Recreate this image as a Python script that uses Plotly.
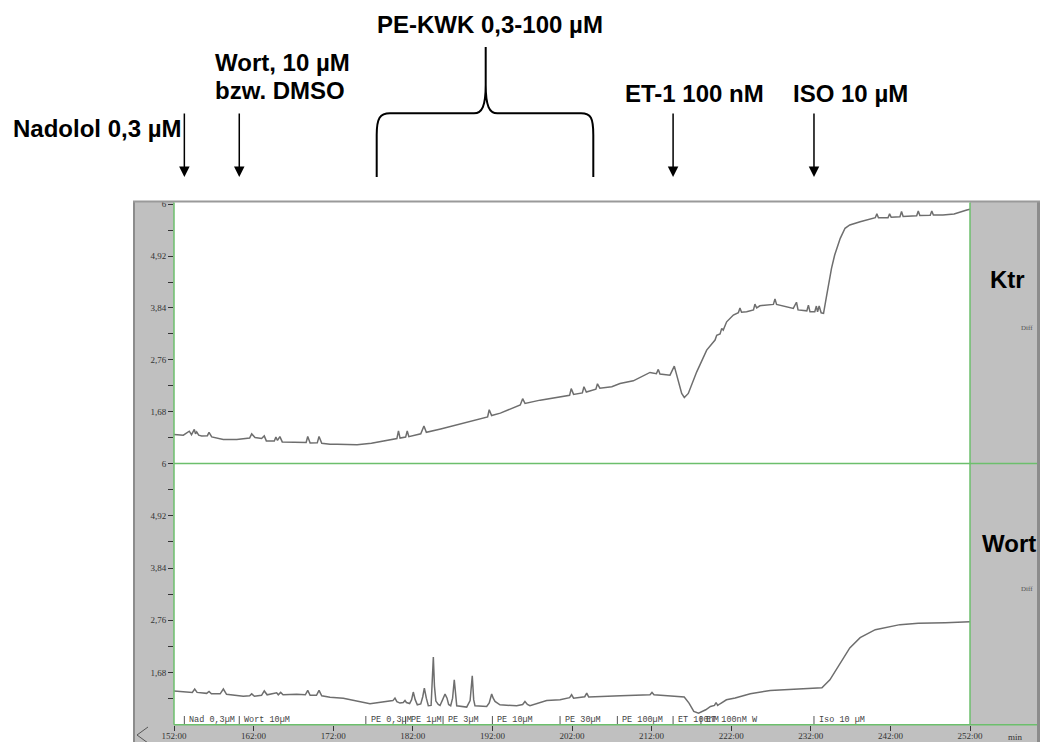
import plotly.graph_objects as go

W, H = 1040, 742

# ---- recorded traces (time in min, Diff signal) ----
ktr_time = [
    152.0, 153.17, 153.92, 154.2, 154.55, 154.7, 154.85, 155.1, 155.48, 156.2,
    156.4, 156.74, 158.19, 159.88, 161.5, 161.76, 162.18, 163.0, 163.34, 163.6,
    164.6, 164.8, 165.0, 165.3, 165.6, 167.41, 168.6, 168.8, 169.1, 170.0,
    170.22, 170.56, 171.6, 172.5, 175.0, 176.8, 178.5, 180.0, 180.2, 180.4,
    181.1, 181.3, 181.5, 183.0, 183.4, 183.7, 185.5, 188.0, 190.0, 191.4,
    191.6, 191.9, 193.0, 195.5, 195.8, 196.1, 198.0, 200.5, 201.7, 201.9,
    202.2, 203.3, 203.5, 203.8, 205.0, 205.2, 205.5, 207.0, 208.03, 209.7,
    210.54, 211.8, 212.6, 212.84, 213.05, 214.31, 214.85, 215.23, 215.78, 216.11,
    216.61, 217.67, 218.92, 219.97, 220.18, 220.6, 220.81, 221.0, 221.43, 222.27,
    222.9, 223.1, 223.3, 223.94, 224.8, 224.98, 225.2, 225.6, 227.3, 227.5,
    227.7, 229.8, 230.2, 230.4, 231.5, 231.7, 231.9, 232.5, 232.7, 232.85,
    233.05, 233.3, 233.6, 234.0, 234.6, 235.0, 235.7, 236.3, 236.9, 238.2,
    240.1, 240.3, 240.5, 241.7, 241.9, 242.1, 243.2, 243.4, 243.6, 245.3,
    245.5, 245.7, 247.0, 247.2, 247.4, 248.6, 250.0, 251.6, 252.0,
]
ktr_diff = [
    1.205, 1.19, 1.273, 1.20, 1.309, 1.22, 1.26, 1.19, 1.175, 1.18,
    1.25, 1.155, 1.10, 1.10, 1.13, 1.217, 1.142, 1.12, 1.175, 1.071,
    1.07, 1.15, 1.08, 1.16, 1.05, 1.038, 1.04, 1.163, 1.025, 1.03,
    1.163, 1.023, 1.002, 1.0, 0.99, 1.02, 1.08, 1.12, 1.28, 1.13,
    1.15, 1.28, 1.16, 1.22, 1.38, 1.25, 1.32, 1.43, 1.52, 1.57,
    1.72, 1.60, 1.65, 1.82, 1.95, 1.85, 1.92, 1.98, 2.02, 2.16,
    2.04, 2.07, 2.20, 2.09, 2.15, 2.26, 2.17, 2.20, 2.268, 2.322,
    2.393, 2.497, 2.47, 2.56, 2.462, 2.441, 2.629, 2.406, 2.06, 1.976,
    2.06, 2.51, 2.962, 3.171, 3.273, 3.30, 3.415, 3.38, 3.552, 3.692,
    3.74, 3.84, 3.75, 3.761, 3.80, 3.92, 3.84, 3.886, 3.915, 4.03,
    3.915, 3.832, 3.96, 3.80, 3.78, 3.90, 3.76, 3.76, 3.88, 3.76,
    3.88, 3.74, 3.728, 4.109, 4.666, 4.943, 5.291, 5.50, 5.569, 5.638,
    5.72, 5.80, 5.72, 5.72, 5.80, 5.73, 5.74, 5.85, 5.745, 5.76,
    5.86, 5.765, 5.77, 5.86, 5.775, 5.777, 5.80, 5.881, 5.90,
]

wort_time = [
    152.0, 154.3, 154.6, 154.9, 156.1, 156.4, 156.7, 157.8, 158.2, 158.6,
    160.7, 161.5, 161.76, 162.1, 163.0, 163.34, 163.7, 164.9, 165.1, 165.4,
    165.7, 167.4, 168.5, 168.8, 169.1, 169.9, 170.22, 170.56, 171.6, 173.27,
    176.62, 179.14, 179.5, 179.76, 180.0, 180.39, 180.8, 181.02, 181.2, 181.6,
    181.85, 182.06, 182.3, 182.57, 183.0, 183.25, 183.45, 183.7, 183.95, 184.3,
    184.45, 184.58, 184.72, 184.9, 185.2, 185.42, 185.75, 186.05, 186.3, 186.5,
    186.76, 187.0, 187.21, 187.38, 187.52, 188.77, 189.2, 189.47, 189.65, 189.81,
    191.28, 191.6, 191.91, 192.1, 192.33, 192.95, 195.05, 195.8, 196.09, 196.4,
    196.72, 198.82, 200.5, 201.7, 201.95, 202.2, 203.6, 203.85, 204.1, 208.1,
    211.8, 212.05, 212.3, 214.0, 216.1, 216.7, 217.3, 217.9, 218.8, 219.4,
    219.9, 220.1, 220.3, 220.6, 221.4, 222.5, 224.4, 226.9, 228.9, 231.4,
    233.4, 234.4, 235.7, 236.9, 238.2, 240.1, 243.2, 245.5, 248.9, 252.0,
]
wort_diff = [
    1.30, 1.27, 1.34, 1.27, 1.25, 1.29, 1.24, 1.24, 1.34, 1.23,
    1.19, 1.20, 1.24, 1.19, 1.21, 1.30, 1.22, 1.26, 1.22, 1.27,
    1.22, 1.23, 1.22, 1.31, 1.21, 1.21, 1.31, 1.20, 1.17, 1.15,
    1.035, 1.082, 1.10, 1.152, 1.08, 1.049, 1.06, 1.103, 1.06, 1.04,
    1.12, 1.277, 1.12, 1.014, 1.03, 1.18, 1.359, 1.15, 0.993, 1.0,
    1.40, 2.0, 1.40, 1.09, 1.02, 1.0, 1.12, 1.235, 1.15, 1.02,
    0.993, 1.15, 1.531, 1.15, 0.993, 0.966, 1.10, 1.614, 1.12, 0.993,
    0.979, 1.05, 1.235, 1.15, 1.082, 1.014, 0.993, 1.02, 1.082, 1.02,
    0.993, 1.103, 1.117, 1.16, 1.221, 1.15, 1.18, 1.256, 1.173, 1.20,
    1.22, 1.268, 1.221, 1.20, 1.173, 1.049, 0.875, 0.842, 0.910, 0.979,
    1.00, 1.061, 1.00, 1.035, 1.117, 1.152, 1.241, 1.31, 1.324, 1.345,
    1.366, 1.53, 1.88, 2.19, 2.40, 2.566, 2.67, 2.70, 2.71, 2.73,
]

# ---- substance additions ----
event_time = [153.3, 160.2, 176.1, 181.1, 185.8, 192.0, 200.5, 207.7, 214.7, 218.2, 232.4]
event_label = ["Nad 0,3µM", "Wort 10µM", "PE 0,3µM", "PE 1µM", "PE 3µM", "PE 10µM",
               "PE 30µM", "PE 100µM", "ET 100nM", "ET 100nM W", "Iso 10 µM"]

# ---- axis ticks ----
x_ticks = list(range(152, 253, 10))
x_ticktext = [f"{t}:00" for t in x_ticks]
y_major = [6, 4.92, 3.84, 2.76, 1.68]
y_major_text = ["6", "4,92", "3,84", "2,76", "1,68"]
y_minor = [5.46, 4.38, 3.30, 2.22, 1.14]

# ---- pixel helpers for the frame layout ----
def px(x):
    return x / W

def py(y):
    return 1 - y / H

PLOT_L, PLOT_R = 174, 970
UP_TOP, MID, LO_BOT = 204.3, 463.5, 724.8
FRAME_L, FRAME_T = 133, 201

GRAY = "#c0c0c0"
GREEN = "#6cbf6c"
TRACE = "#6e6e6e"

fig = go.Figure()
fig.add_trace(go.Scatter(x=wort_time, y=wort_diff, mode="lines",
                         line=dict(color=TRACE, width=1.5), xaxis="x", yaxis="y",
                         showlegend=False, hoverinfo="skip"))
fig.add_trace(go.Scatter(x=ktr_time, y=ktr_diff, mode="lines",
                         line=dict(color=TRACE, width=1.5), xaxis="x2", yaxis="y2",
                         showlegend=False, hoverinfo="skip"))

tick_font = dict(family="Liberation Serif", size=9, color="#333")
yax = dict(range=[0.6, 6], tickvals=y_major + y_minor,
           ticktext=y_major_text + [""] * len(y_minor),
           ticks="outside", ticklen=5, tickwidth=1, tickcolor="#333",
           tickfont=tick_font, showgrid=False, zeroline=False, showline=False,
           fixedrange=True, automargin=False)

shapes = []

def rect(x0, y0, x1, y1, color):
    shapes.append(dict(type="rect", xref="paper", yref="paper",
                       x0=px(x0), x1=px(x1), y0=py(y1), y1=py(y0),
                       fillcolor=color, line=dict(width=0), layer="below"))

def hline(y, x0, x1, color, width):
    shapes.append(dict(type="line", xref="paper", yref="paper",
                       x0=px(x0), x1=px(x1), y0=py(y), y1=py(y),
                       line=dict(color=color, width=width)))

def vline(x, y0, y1, color, width):
    shapes.append(dict(type="line", xref="paper", yref="paper",
                       x0=px(x), x1=px(x), y0=py(y0), y1=py(y1),
                       line=dict(color=color, width=width)))

# gray frame
rect(FRAME_L, FRAME_T, PLOT_L, H, GRAY)
rect(PLOT_R, FRAME_T, W, H, GRAY)
rect(FRAME_L, LO_BOT, W, H, GRAY)
vline(134, FRAME_T, H, "#8c8c8c", 2)
vline(1038.5, FRAME_T, H, "#8c8c8c", 3)
hline(FRAME_T + 0.5, FRAME_L, W, "#9a9a9a", 2)

# green panel borders
vline(PLOT_L, FRAME_T + 1.5, LO_BOT, GREEN, 1.5)
vline(PLOT_R, FRAME_T + 1.5, LO_BOT, GREEN, 1.5)
hline(MID, PLOT_L, 1037, GREEN, 1.5)
hline(LO_BOT, PLOT_L, 1037, GREEN, 1.5)

# scroll triangle bottom left
tri = [(148, 727), (137, 735), (148, 743)]
shapes.append(dict(type="path", xref="paper", yref="paper",
                   path="M " + " L ".join(f"{px(a)},{py(b)}" for a, b in tri),
                   line=dict(color="#555", width=1)))

# event markers inside lower panel
for t in event_time:
    shapes.append(dict(type="line", xref="x", yref="paper", x0=t, x1=t,
                       y0=py(724), y1=py(716), line=dict(color="#555", width=1)))

# curly bracket over the PE concentration series
def P(a, b):
    return f"{px(a)},{py(b)}"

brace = (f"M {P(376.7, 177)} L {P(376.7, 135)} C {P(376.7, 118)} {P(380, 113.3)} {P(390, 113.3)} "
         f"L {P(474, 113.3)} C {P(482, 113.3)} {P(485.7, 106)} {P(485.7, 85)} L {P(485.7, 47)} "
         f"L {P(485.7, 85)} C {P(485.7, 106)} {P(489.4, 113.3)} {P(497.4, 113.3)} "
         f"L {P(581, 113.3)} C {P(591, 113.3)} {P(593.3, 118)} {P(593.3, 135)} L {P(593.3, 177)}")
shapes.append(dict(type="path", xref="paper", yref="paper", path=brace,
                   line=dict(color="black", width=2)))

annotations = []
head_font = dict(family="Liberation Sans", size=24, color="black", weight="bold")

def label(text, x, y, xanchor="center", font=head_font):
    annotations.append(dict(text=text, xref="paper", yref="paper", x=px(x), y=py(y),
                            xanchor=xanchor, yanchor="middle", showarrow=False, font=font))

label("PE-KWK 0,3-100 µM", 490, 24)
label("Wort, 10 µM", 213, 62, "left")
label("bzw. DMSO", 213, 90, "left")
label("Nadolol 0,3 µM", 11, 129, "left")
label("ET-1 100 nM", 694.5, 94)
label("ISO 10 µM", 850.5, 94)
label("Ktr", 1007, 279)
label("Wort", 1009, 543)
small_font = dict(family="Liberation Serif", size=7, color="#555")
label("Diff", 1027, 328, font=small_font)
label("Diff", 1027, 589, font=small_font)
label("min", 1015, 736.5, font=dict(family="Liberation Serif", size=9, color="#333"))

# arrows for single additions
for i in [0, 1, 8, 10]:
    annotations.append(dict(text="", xref="x", yref="paper", x=event_time[i], y=py(177),
                            ax=0, ay=-65, showarrow=True, arrowhead=2, arrowsize=1.4,
                            arrowwidth=1.5, arrowcolor="black"))

# event labels along the lower panel
for t, s in zip(event_time, event_label):
    annotations.append(dict(text=s, xref="x", yref="paper", x=t, y=py(719.5),
                            xanchor="left", yanchor="middle", xshift=3, showarrow=False,
                            font=dict(family="Liberation Mono", size=8.5, color="#444")))

fig.update_layout(
    width=W, height=H, margin=dict(l=0, r=0, t=0, b=0),
    paper_bgcolor="white", plot_bgcolor="white",
    xaxis=dict(domain=[px(PLOT_L), px(PLOT_R)], range=[152, 252], anchor="y",
               tickvals=x_ticks, ticktext=x_ticktext, ticks="outside", ticklen=5,
               tickwidth=1, tickcolor="#333", tickfont=tick_font, ticklabelstandoff=-3,
               showgrid=False, zeroline=False, showline=False, fixedrange=True,
               automargin=False),
    xaxis2=dict(domain=[px(PLOT_L), px(PLOT_R)], range=[152, 252], anchor="y2",
                matches="x", showticklabels=False, ticks="", showgrid=False,
                zeroline=False, showline=False, fixedrange=True, automargin=False),
    yaxis=dict(domain=[py(LO_BOT), py(MID)], anchor="x", **yax),
    yaxis2=dict(domain=[py(MID), py(UP_TOP)], anchor="x2", **yax),
    shapes=shapes, annotations=annotations,
)

fig.write_html("out.html")
